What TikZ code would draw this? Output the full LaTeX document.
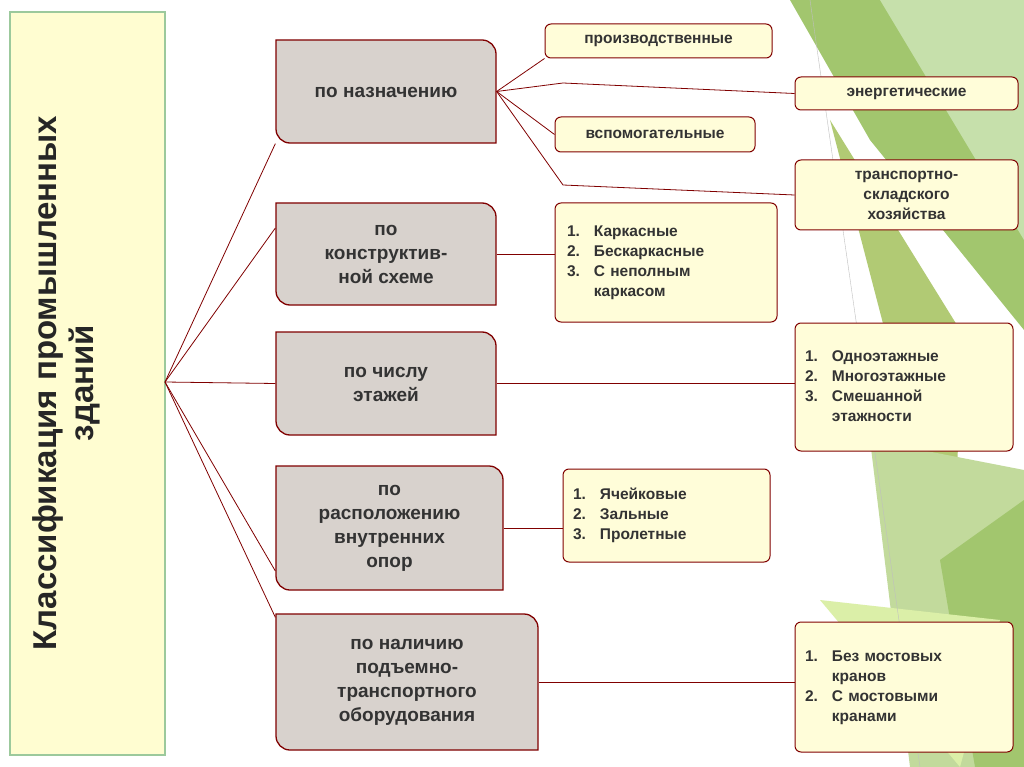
\documentclass[tikz,border=0pt]{standalone}
\usepackage{fontspec}
\setmainfont{Liberation Sans}
\begin{document}
\begin{tikzpicture}[x=1pt,y=-1pt,
  mid/.style={draw=red!50!black,line width=1.3pt,fill=brown!25!gray!35,align=center,font=\fontsize{19}{24}\selectfont\bfseries,text=black!80,inner sep=0pt},
  rt/.style={draw=red!50!black,line width=1pt,fill=yellow!15,align=center,font=\fontsize{15.5}{20}\selectfont\bfseries,text=black!80,inner sep=0pt,rounded corners=6pt},
  ln/.style={red!50!black,line width=0.8pt}]
\useasboundingbox (0,0) rectangle (1024,767);
\fill[white] (0,0) rectangle (1024,767);
% green background
\fill[olive!50!green!55] (790,0) -- (1024,0) -- (1024,330) -- (870,140) -- cycle;
\fill[olive!40!green!30] (880,0) -- (1024,0) -- (1024,240) -- cycle;
\fill[olive!60!green!50] (830,120) -- (960,330) -- (955,600) -- cycle;
\fill[olive!50!green!35] (870,440) -- (1024,470) -- (1024,767) -- (910,767) -- cycle;
\fill[olive!50!green!55] (940,560) -- (1024,500) -- (1024,767) -- (975,767) -- cycle;
\fill[yellow!60!green!35] (820,600) -- (1000,620) -- (960,767) -- cycle;
\draw[gray!50] (810,0) -- (920,767);
% left box
\node[draw=green!30!gray!60,line width=1.2pt,fill=yellow!18,minimum width=155pt,minimum height=743pt,inner sep=0pt] (root) at (87.5,383.5) {};
\node[rotate=90,align=center,font=\fontsize{33}{37}\selectfont\bfseries,text=black!85] (rt) at (66,383) {Классификация промышленных\\зданий};
\coordinate (hub) at (165,382);
% middle
\begin{scope}[every node/.style={mid},rounded corners=0pt]
\tikzset{mid/.append style={}}
\end{scope}
\tikzset{mb/.style={mid,draw=none,fill=none}}
\newcommand{\midbox}[5]{% name, cx, cy, w, h
  \fill[brown!25!gray!35,draw=red!50!black,line width=1.3pt]
    ({#2-#4/2},{#3-#5/2}) -- ({#2+#4/2-14},{#3-#5/2}) [rounded corners=14pt] -- ({#2+#4/2},{#3-#5/2}) [sharp corners] -- ({#2+#4/2},{#3+#5/2}) -- ({#2-#4/2+14},{#3+#5/2}) [rounded corners=14pt] -- ({#2-#4/2},{#3+#5/2}) [sharp corners] -- cycle;
  \node[mb,minimum width=#4pt,minimum height=#5pt] (#1) at (#2,#3) {};}
\midbox{m1}{386}{91.5}{220}{103}
\midbox{m2}{386}{254}{220}{102}
\midbox{m3}{386}{383.5}{220}{103}
\midbox{m4}{389.5}{528}{227}{124}
\midbox{m5}{407}{682}{262}{136}
\node[mb] (t1) at (386,92) {по назначению};
\node[mb] (t2) at (386,254) {по\\конструктив-\\ной схеме};
\node[mb] (t3) at (386,384) {по числу\\этажей};
\node[mb] (t4) at (389.5,528) {по\\расположению\\внутренних\\опор};
\node[mb] (t5) at (407,682) {по наличию\\подъемно-\\транспортного\\оборудования};
% right
\node[rt,minimum width=227pt,minimum height=34pt] (r1) at (658.5,41) {производственные};
\node[rt,minimum width=223pt,minimum height=33pt] (r2) at (906.5,93.5) {энергетические};
\node[rt,minimum width=200pt,minimum height=35pt] (r3) at (655,134.5) {вспомогательные};
\node[rt,minimum width=223pt,minimum height=70pt] (r4) at (906.5,195) {транспортно-\\складского\\хозяйства};
\node[rt,minimum width=222pt,minimum height=119pt,align=left,text width=198pt] (r5) at (666,262.5) {\begin{tabular}{@{}l@{\hspace{14pt}}l@{}}1.&Каркасные\\2.&Бескаркасные\\3.&С неполным\\&каркасом\end{tabular}};
\node[rt,minimum width=218pt,minimum height=128pt,align=left,text width=198pt] (r6) at (904,387) {\begin{tabular}{@{}l@{\hspace{14pt}}l@{}}1.&Одноэтажные\\2.&Многоэтажные\\3.&Смешанной\\&этажности\end{tabular}};
\node[rt,minimum width=207pt,minimum height=93pt,align=left,text width=187pt] (r7) at (666.5,515.5) {\begin{tabular}{@{}l@{\hspace{14pt}}l@{}}1.&Ячейковые\\2.&Зальные\\3.&Пролетные\end{tabular}};
\node[rt,minimum width=218pt,minimum height=130pt,align=left,text width=198pt] (r8) at (904,687) {\begin{tabular}{@{}l@{\hspace{14pt}}l@{}}1.&Без мостовых\\&кранов\\2.&С мостовыми\\&кранами\end{tabular}};
% connectors
\draw[ln] (hub) -- (m1.south west);
\draw[ln] (hub) -- ([yshift=26pt]m2.west);
\draw[ln] (hub) -- (m3.west);
\draw[ln] (hub) -- ([yshift=-43pt]m4.west);
\draw[ln] (hub) -- ([yshift=-4pt]m5.north west);
\coordinate (b) at (m1.east);
\draw[ln] (b) -- (r1.south west);
\draw[ln] (b) -- (563,83) -- (r2.west);
\draw[ln] (b) -- (r3.west);
\draw[ln] (b) -- (563,185) -- (r4.west);
\draw[ln] (m2.east) -- (r5.west |- m2.east);
\draw[ln] (m3.east) -- (r6.west |- m3.east);
\draw[ln] (m4.east) -- (r7.west |- m4.east);
\draw[ln] (m5.east) -- (r8.west |- m5.east);
\end{tikzpicture}
\end{document}
